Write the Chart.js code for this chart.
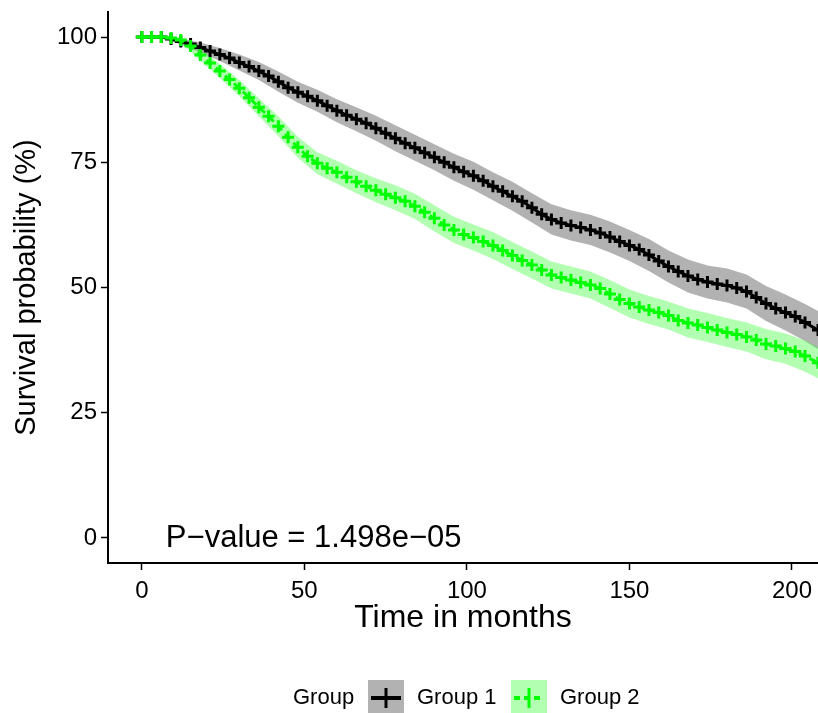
<html>
<head>
	<title>Survival</title>
	<script src="https://cdn.jsdelivr.net/npm/chart.js"></script>
	<style>
		html, body { margin: 0; padding: 0; background: #fff; overflow: hidden; }
		#wrap { width: 818px; height: 713px; }
		#kmChart { display: block; }
	</style>
</head>
<body>
	<div id="wrap">
		<canvas id="kmChart" width="818" height="713"></canvas>
	</div>
</body>
<script>
    // 곡선 시점 (개월)
    const times = [0, 3, 6, 9, 12, 15, 18, 21, 24, 27, 30, 33, 36, 39, 42, 45, 48, 51, 54, 57,
        60, 63, 66, 69, 72, 75, 78, 81, 84, 87, 90, 93, 96, 99, 102, 105, 108, 111, 114, 117,
        120, 123, 126, 129, 132, 135, 138, 141, 144, 147, 150, 153, 156, 159, 162, 165, 168, 171, 174, 177,
        180, 183, 186, 189, 192, 195, 198, 201, 204, 208];

    const group1Surv = [100, 100, 100, 99.6, 99.1, 98.6, 97.9, 97.2, 96.5, 95.8, 94.9, 94.1, 93.2, 92.2, 91.1, 89.9, 89.0, 88.2, 87.3, 86.3,
        85.3, 84.4, 83.6, 82.8, 81.8, 80.8, 79.8, 78.8, 77.9, 76.9, 76.0, 75.0, 74.0, 73.1, 72.3, 71.3, 70.2, 69.2, 68.2, 67.2,
        65.9, 64.6, 63.6, 62.9, 62.4, 62.0, 61.5, 60.9, 60.1, 59.2, 58.4, 57.6, 56.5, 55.3, 54.2, 53.2, 52.3, 51.6, 51.1, 50.7,
        50.4, 49.9, 49.2, 48.0, 46.8, 45.8, 45.0, 44.2, 43.0, 41.5];

    const group2Surv = [100, 100, 100, 99.8, 99.4, 98.2, 96.4, 94.8, 93.2, 91.5, 89.8, 87.9, 86.0, 84.2, 82.2, 80.0, 78.0, 76.2, 74.8, 73.8,
        73.0, 72.0, 71.1, 70.2, 69.4, 68.6, 67.9, 67.2, 66.2, 65.0, 63.8, 62.5, 61.5, 60.6, 60.0, 59.2, 58.4, 57.4, 56.4, 55.4,
        54.5, 53.5, 52.5, 52.0, 51.5, 51.0, 50.5, 49.8, 48.7, 47.6, 46.8, 46.1, 45.5, 45.0, 44.4, 43.4, 42.9, 42.5, 42.0, 41.5,
        41.0, 40.6, 40.1, 39.5, 38.7, 38.3, 37.8, 37.2, 36.3, 35.0];

    // 신뢰구간 시점
    const bandTimes = [0, 6, 12, 18, 24, 30, 36, 42, 48, 54, 60, 66, 72, 78, 84, 90, 96, 102,
        108, 114, 120, 126, 132, 138, 144, 150, 156, 162, 168, 174, 180, 186, 192, 198, 204, 208];

    const group1Lower = [100, 99.8, 98.5, 96.9, 95.2, 93.3, 91.4, 89.1, 86.9, 85.1, 83.0, 81.2, 79.3, 77.2, 75.3, 73.4, 71.3, 69.5,
        67.4, 65.3, 63.0, 60.6, 59.4, 58.5, 57.0, 55.3, 53.3, 51.0, 49.0, 47.8, 47.0, 45.8, 43.3, 41.4, 39.3, 37.7];
    const group1Upper = [100, 100, 99.7, 98.9, 97.8, 96.5, 95.0, 93.1, 91.1, 89.5, 87.6, 86.0, 84.3, 82.4, 80.5, 78.6, 76.7, 75.1,
        73.0, 71.1, 68.8, 66.6, 65.4, 64.5, 63.2, 61.5, 59.7, 57.4, 55.6, 54.4, 53.8, 52.6, 50.3, 48.6, 46.7, 45.3];

    const group2Lower = [100, 99.8, 98.8, 95.3, 91.8, 88.2, 84.2, 80.2, 75.9, 72.6, 70.7, 68.8, 67.0, 65.4, 63.7, 61.2, 58.9, 57.4,
        55.7, 53.7, 51.8, 49.8, 48.8, 47.8, 45.9, 44.0, 42.7, 41.6, 40.0, 39.1, 38.1, 37.2, 35.7, 34.8, 33.2, 31.9];
    const group2Upper = [100, 100, 100, 97.5, 94.6, 91.4, 87.8, 84.2, 80.1, 77.0, 75.3, 73.4, 71.8, 70.4, 68.7, 66.4, 64.1, 62.6,
        61.1, 59.1, 57.2, 55.2, 54.2, 53.2, 51.5, 49.6, 48.3, 47.2, 45.8, 44.9, 43.9, 43.0, 41.7, 40.8, 39.4, 38.1];

    const xTicks = [0, 50, 100, 150, 200];
    const yTicks = [0, 25, 50, 75, 100];
    const groupLabels = ['Group 1', 'Group 2'];
    const pValueText = 'P\u2212value = 1.498e\u221205';

    const FONT = "'Liberation Sans', Arial, Helvetica, sans-serif";

    const toPoints = (xs, ys) => xs.map((x, i) => ({ x, y: ys[i] }));

    const bandStyle = {
        borderWidth: 0,
        borderColor: 'rgba(0,0,0,0)',
        pointRadius: 0,
        tension: 0,
    };

    // p-value + 범례 그리기
    const extraDraw = {
        id: 'extraDraw',
        afterDraw: (chart) => {
            const ctx = chart.ctx;
            const xs = chart.scales.x;
            const ys = chart.scales.y;
            ctx.save();
            ctx.fillStyle = '#000';
            ctx.font = `31px ${FONT}`;
            ctx.textAlign = 'left';
            ctx.textBaseline = 'middle';
            ctx.fillText(pValueText, xs.getPixelForValue(7.4), ys.getPixelForValue(0));

            // legend
            const cy = 698;
            ctx.font = `22px ${FONT}`;
            ctx.fillText('Group', 293, cy);

            const drawKey = (x0, bg, stroke, dashed) => {
                ctx.fillStyle = bg;
                ctx.fillRect(x0, 680, 36, 36);
                ctx.strokeStyle = stroke;
                ctx.lineWidth = 4;
                ctx.setLineDash(dashed ? [6, 4] : []);
                ctx.beginPath();
                ctx.moveTo(x0 + 3, cy);
                ctx.lineTo(x0 + 33, cy);
                ctx.stroke();
                ctx.setLineDash([]);
                ctx.lineWidth = 3;
                ctx.beginPath();
                ctx.moveTo(x0 + 18, cy - 10);
                ctx.lineTo(x0 + 18, cy + 10);
                ctx.stroke();
            };
            drawKey(368, 'rgba(0,0,0,0.3)', '#000', false);
            ctx.fillStyle = '#000';
            ctx.fillText(groupLabels[0], 417, cy);
            drawKey(511, 'rgba(0,255,0,0.3)', '#00ff00', true);
            ctx.fillStyle = '#000';
            ctx.fillText(groupLabels[1], 560, cy);
            ctx.restore();
        }
    };

    const config = {
        type: 'line',
        data: {
            datasets: [
                {
                    label: groupLabels[1],
                    data: toPoints(times, group2Surv),
                    borderColor: '#00ff00',
                    borderWidth: 3,
                    borderDash: [7, 5],
                    pointStyle: 'cross',
                    pointRadius: 6,
                    pointBorderWidth: 3,
                    pointBorderColor: '#00ff00',
                    tension: 0,
                    fill: false,
                },
                {
                    label: groupLabels[0],
                    data: toPoints(times, group1Surv),
                    borderColor: '#000',
                    borderWidth: 3,
                    pointStyle: 'cross',
                    pointRadius: 6,
                    pointBorderWidth: 3,
                    pointBorderColor: '#000',
                    tension: 0,
                    fill: false,
                },
                { ...bandStyle, data: toPoints(bandTimes, group2Lower), fill: false },
                { ...bandStyle, data: toPoints(bandTimes, group2Upper), fill: { target: 2 }, backgroundColor: 'rgba(0,255,0,0.3)' },
                { ...bandStyle, data: toPoints(bandTimes, group1Lower), fill: false },
                { ...bandStyle, data: toPoints(bandTimes, group1Upper), fill: { target: 4 }, backgroundColor: 'rgba(0,0,0,0.3)' },
            ]
        },
        options: {
            responsive: false,
            animation: false,
            layout: { autoPadding: false, padding: { top: 12, right: 0, bottom: 76, left: 0 } },
            plugins: {
                legend: { display: false },
                tooltip: { enabled: false },
            },
            scales: {
                x: {
                    type: 'linear',
                    min: -10.4,
                    max: 208,
                    afterBuildTicks: (s) => { s.ticks = xTicks.map(v => ({ value: v })); },
                    afterFit: (s) => { s.height = 74; s.paddingLeft = 0; s.paddingRight = 0; },
                    grid: { drawOnChartArea: false, drawTicks: true, tickLength: 7, tickWidth: 1.5, tickColor: '#000' },
                    border: { display: true, color: '#000', width: 2 },
                    ticks: { color: '#000', padding: 7, font: { family: FONT, size: 24 }, maxRotation: 0 },
                    title: { display: true, text: 'Time in months', color: '#000', padding: 0, font: { family: FONT, size: 32 } },
                },
                y: {
                    type: 'linear',
                    min: -5,
                    max: 105,
                    afterBuildTicks: (s) => { s.ticks = yTicks.map(v => ({ value: v })); },
                    afterFit: (s) => { s.width = 108; s.paddingTop = 0; s.paddingBottom = 0; },
                    grid: { drawOnChartArea: false, drawTicks: true, tickLength: 7, tickWidth: 1.5, tickColor: '#000' },
                    border: { display: true, color: '#000', width: 2 },
                    ticks: { color: '#000', padding: 4, font: { family: FONT, size: 24 } },
                    title: { display: true, text: 'Survival probability (%)', color: '#000', padding: { top: 10 }, font: { family: FONT, size: 29 } },
                }
            }
        },
        plugins: [extraDraw]
    };

    const chart = new Chart(document.getElementById('kmChart'), config);
</script>
</html>
